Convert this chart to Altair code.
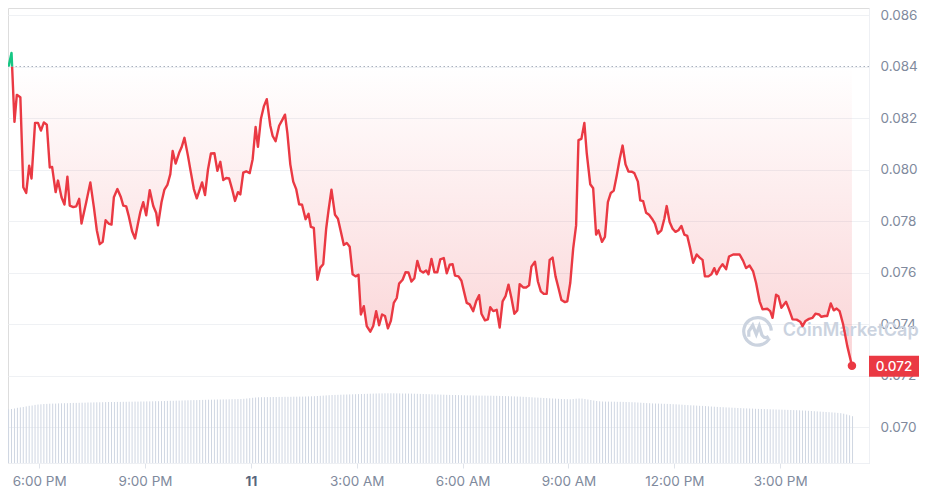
import altair as alt
import pandas as pd

# ---------------- data ----------------
DAY0 = pd.Timestamp("2024-07-10 17:00:00")   # minutes below are counted from here
BASELINE = 0.084                              # opening-price reference line
UP_COLOR = "#16c784"
DOWN_COLOR = "#ea3943"

price_minutes = [
    8, 13, 18, 22, 28, 33, 38, 43, 47, 53,
    58, 63, 68, 73, 78, 82, 88, 92, 98, 103,
    108, 112, 118, 123, 128, 132, 140, 147, 153, 158,
    163, 168, 173, 178, 183, 187, 193, 199, 203, 208,
    212, 218, 223, 228, 232, 237, 242, 248, 254, 259,
    262, 268, 273, 278, 283, 287, 292, 298, 302, 307,
    313, 318, 323, 328, 333, 337, 342, 347, 352, 358,
    363, 368, 373, 378, 383, 388, 393, 398, 402, 407,
    412, 418, 423, 428, 432, 437, 442, 447, 453, 457,
    462, 468, 473, 478, 482, 487, 492, 497, 502, 507,
    513, 518, 522, 527, 533, 538, 543, 548, 552, 557,
    563, 568, 573, 578, 583, 588, 593, 598, 603, 607,
    612, 617, 623, 628, 633, 638, 643, 648, 653, 658,
    663, 668, 672, 678, 683, 688, 693, 698, 703, 708,
    713, 718, 722, 727, 732, 737, 742, 748, 753, 758,
    763, 767, 773, 778, 783, 787, 792, 798, 803, 808,
    812, 818, 823, 827, 832, 838, 843, 848, 853, 858,
    863, 868, 873, 877, 883, 888, 893, 897, 903, 908,
    913, 918, 923, 928, 933, 938, 943, 948, 954, 958,
    963, 968, 973, 977, 982, 987, 991, 997, 1002, 1007,
    1011, 1017, 1022, 1027, 1032, 1037, 1042, 1047, 1052, 1057,
    1062, 1068, 1072, 1078, 1082, 1087, 1092, 1097, 1102, 1107,
    1112, 1118, 1123, 1127, 1132, 1137, 1142, 1147, 1152, 1157,
    1162, 1167, 1172, 1178, 1183, 1188, 1192, 1198, 1203, 1208,
    1212, 1217, 1222, 1228, 1233, 1240, 1251, 1257, 1262, 1268,
    1274, 1279, 1285, 1290, 1298, 1303, 1307, 1313, 1317, 1322,
    1330, 1335, 1341, 1348, 1354, 1358, 1363, 1369, 1375, 1380,
    1386, 1390, 1396, 1400, 1406, 1411, 1416, 1421, 1427, 1434,
    1442,
]

price_values = [
    0.08400, 0.08453, 0.08185, 0.08290, 0.08281, 0.07931, 0.07909, 0.08015, 0.07965, 0.08181,
    0.08181, 0.08151, 0.08183, 0.08174, 0.08008, 0.08010, 0.07912, 0.07957, 0.07892, 0.07864,
    0.07972, 0.07860, 0.07854, 0.07857, 0.07886, 0.07790, 0.07873, 0.07950, 0.07854, 0.07764,
    0.07710, 0.07719, 0.07803, 0.07790, 0.07786, 0.07892, 0.07924, 0.07892, 0.07860, 0.07857,
    0.07822, 0.07760, 0.07732, 0.07790, 0.07835, 0.07873, 0.07822, 0.07920, 0.07858, 0.07831,
    0.07783, 0.07873, 0.07922, 0.07940, 0.07982, 0.08072, 0.08023, 0.08065, 0.08085, 0.08123,
    0.08053, 0.07988, 0.07924, 0.07888, 0.07922, 0.07950, 0.07901, 0.07999, 0.08062, 0.08063,
    0.07995, 0.08030, 0.07959, 0.07967, 0.07965, 0.07924, 0.07878, 0.07912, 0.07903, 0.07988,
    0.07993, 0.07986, 0.08040, 0.08165, 0.08088, 0.08196, 0.08245, 0.08273, 0.08170, 0.08130,
    0.08110, 0.08170, 0.08191, 0.08213, 0.08142, 0.08020, 0.07953, 0.07924, 0.07865, 0.07863,
    0.07807, 0.07828, 0.07777, 0.07773, 0.07572, 0.07619, 0.07632, 0.07770, 0.07841, 0.07922,
    0.07824, 0.07809, 0.07758, 0.07707, 0.07715, 0.07700, 0.07593, 0.07585, 0.07591, 0.07437,
    0.07469, 0.07392, 0.07370, 0.07392, 0.07450, 0.07395, 0.07437, 0.07431, 0.07383, 0.07412,
    0.07482, 0.07501, 0.07557, 0.07572, 0.07601, 0.07600, 0.07565, 0.07578, 0.07645, 0.07607,
    0.07600, 0.07608, 0.07593, 0.07653, 0.07601, 0.07601, 0.07651, 0.07656, 0.07597, 0.07630,
    0.07632, 0.07588, 0.07585, 0.07568, 0.07520, 0.07482, 0.07476, 0.07450, 0.07488, 0.07512,
    0.07440, 0.07414, 0.07418, 0.07465, 0.07450, 0.07455, 0.07386, 0.07488, 0.07508, 0.07553,
    0.07501, 0.07440, 0.07453, 0.07555, 0.07542, 0.07542, 0.07550, 0.07623, 0.07642, 0.07565,
    0.07527, 0.07517, 0.07517, 0.07649, 0.07658, 0.07585, 0.07540, 0.07493, 0.07485, 0.07488,
    0.07559, 0.07693, 0.07783, 0.08114, 0.08119, 0.08181, 0.08065, 0.07943, 0.07927, 0.07747,
    0.07764, 0.07719, 0.07738, 0.07873, 0.07909, 0.07918, 0.07976, 0.08040, 0.08093, 0.08020,
    0.07992, 0.07991, 0.07986, 0.07953, 0.07880, 0.07877, 0.07832, 0.07824, 0.07809, 0.07790,
    0.07751, 0.07764, 0.07809, 0.07858, 0.07796, 0.07770, 0.07758, 0.07764, 0.07781, 0.07747,
    0.07742, 0.07693, 0.07638, 0.07670, 0.07658, 0.07649, 0.07585, 0.07585, 0.07593, 0.07617,
    0.07593, 0.07617, 0.07632, 0.07613, 0.07662, 0.07670, 0.07670, 0.07645, 0.07617, 0.07627,
    0.07604, 0.07559, 0.07488, 0.07457, 0.07459, 0.07450, 0.07424, 0.07514, 0.07508, 0.07463,
    0.07486, 0.07457, 0.07418, 0.07417, 0.07409, 0.07392, 0.07412, 0.07420, 0.07424, 0.07440,
    0.07437, 0.07428, 0.07431, 0.07431, 0.07480, 0.07453, 0.07460, 0.07450, 0.07399, 0.07315,
    0.07238,
]

# 5-minute volume bars (millions), first bar at minute 8
volume_start_min = 8
volume_step_min = 5
volume_musd = [
    5.37, 5.40, 5.45, 5.52, 5.56, 5.60, 5.66, 5.72, 5.75, 5.81, 5.85, 5.87,
    5.90, 5.91, 5.93, 5.94, 5.94, 5.96, 5.97, 5.98, 5.98, 6.00, 6.01, 6.01,
    6.02, 6.03, 6.03, 6.05, 6.05, 6.06, 6.07, 6.07, 6.08, 6.09, 6.10, 6.10,
    6.10, 6.11, 6.11, 6.12, 6.12, 6.13, 6.13, 6.14, 6.14, 6.15, 6.15, 6.16,
    6.16, 6.17, 6.18, 6.18, 6.19, 6.20, 6.21, 6.22, 6.22, 6.23, 6.24, 6.25,
    6.26, 6.27, 6.28, 6.29, 6.29, 6.30, 6.31, 6.32, 6.33, 6.33, 6.34, 6.35,
    6.35, 6.36, 6.36, 6.37, 6.38, 6.38, 6.39, 6.40, 6.42, 6.45, 6.48, 6.52,
    6.55, 6.57, 6.58, 6.58, 6.59, 6.59, 6.60, 6.60, 6.61, 6.61, 6.62, 6.62,
    6.62, 6.63, 6.63, 6.64, 6.64, 6.65, 6.66, 6.67, 6.68, 6.70, 6.72, 6.74,
    6.76, 6.78, 6.80, 6.81, 6.82, 6.83, 6.84, 6.85, 6.86, 6.87, 6.88, 6.89,
    6.90, 6.91, 6.92, 6.93, 6.94, 6.95, 6.96, 6.96, 6.97, 6.97, 6.97, 6.97,
    6.96, 6.96, 6.95, 6.95, 6.94, 6.94, 6.93, 6.92, 6.91, 6.90, 6.89, 6.88,
    6.87, 6.86, 6.85, 6.84, 6.83, 6.82, 6.81, 6.80, 6.80, 6.79, 6.78, 6.77,
    6.76, 6.76, 6.75, 6.75, 6.74, 6.74, 6.74, 6.73, 6.73, 6.72, 6.72, 6.71,
    6.70, 6.69, 6.68, 6.67, 6.66, 6.65, 6.64, 6.62, 6.61, 6.59, 6.57, 6.55,
    6.54, 6.52, 6.50, 6.49, 6.47, 6.45, 6.44, 6.42, 6.40, 6.39, 6.38, 6.37,
    6.40, 6.43, 6.45, 6.44, 6.40, 6.35, 6.30, 6.25, 6.20, 6.17, 6.15, 6.14,
    6.14, 6.13, 6.13, 6.12, 6.12, 6.11, 6.10, 6.09, 6.08, 6.07, 6.05, 6.03,
    6.01, 5.99, 5.98, 5.96, 5.95, 5.94, 5.93, 5.92, 5.91, 5.90, 5.88, 5.87,
    5.85, 5.83, 5.81, 5.79, 5.77, 5.76, 5.74, 5.72, 5.71, 5.69, 5.67, 5.65,
    5.63, 5.61, 5.59, 5.58, 5.56, 5.55, 5.53, 5.52, 5.50, 5.49, 5.47, 5.46,
    5.45, 5.44, 5.42, 5.41, 5.40, 5.39, 5.38, 5.37, 5.36, 5.35, 5.34, 5.33,
    5.32, 5.31, 5.30, 5.29, 5.28, 5.27, 5.25, 5.24, 5.22, 5.20, 5.18, 5.16,
    5.14, 5.12, 5.10, 5.08, 5.06, 5.04, 5.01, 4.98, 4.93, 4.85, 4.77, 4.68,
]

y_tick_values = [0.070, 0.072, 0.074, 0.076, 0.078, 0.080, 0.082, 0.084, 0.086]
x_tick_day_hour = [(10, 18), (10, 21), (11, 0), (11, 3), (11, 6), (11, 9), (11, 12), (11, 15)]
watermark_text = "CoinMarketCap"

# ---------------- tables ----------------
rows = []
for i, (m, p) in enumerate(zip(price_minutes, price_values)):
    if i > 0:
        m0, p0 = price_minutes[i - 1], price_values[i - 1]
        if (p0 - BASELINE) * (p - BASELINE) < 0:
            mc = m0 + (BASELINE - p0) / (p - p0) * (m - m0)
            rows.append((mc, BASELINE, True))
    rows.append((m, p, False))
df = pd.DataFrame(rows, columns=["m", "price", "cross"])
df["t"] = DAY0 + pd.to_timedelta(df["m"], unit="min")
df["lower"] = df["price"].clip(upper=BASELINE)
df["upper"] = df["price"].clip(lower=BASELINE)
first_cross = int(df.index[df["cross"]][0])
green_df = df.loc[:first_cross, ["t", "price", "upper"]]
red_df = df.loc[first_cross:, ["t", "price"]]
area_df = df[["t", "lower"]]
last_df = df.iloc[[-1]][["t", "price"]]

vol_df = pd.DataFrame({
    "t": [DAY0 + pd.Timedelta(minutes=volume_start_min + volume_step_min * i) for i in range(len(volume_musd))],
    "vol": volume_musd,
})

# ---------------- scales / axes ----------------
x_scale = alt.Scale(domain=[alt.DateTime(year=2024, month=7, date=10, hours=17, minutes=7),
                            alt.DateTime(year=2024, month=7, date=11, hours=17, minutes=31)])
Y_DOMAIN = [0.068602, 0.086272]

def ysc():
    return alt.Scale(domain=Y_DOMAIN, nice=False, zero=False)

x_axis = alt.Axis(
    values=[alt.DateTime(year=2024, month=7, date=d, hours=h) for d, h in x_tick_day_hour],
    labelExpr="hours(datum.value) == 0 ? timeFormat(datum.value, '%-d') : timeFormat(datum.value, '%-I:%M %p')",
    title=None, grid=False, domain=True, domainColor="#eef0f4", ticks=True, tickColor="#dfe3ea",
    tickSize=5, labelPadding=6, labelFont="Inter", labelFontSize=13.5,
    labelColor={"condition": {"test": "hours(datum.value) == 0", "value": "#58667e"}, "value": "#808a9d"},
    labelFontWeight={"condition": {"test": "hours(datum.value) == 0", "value": 700}, "value": 400},
    labelFlush=False, labelOverlap=False,
)
y_axis = alt.Axis(
    orient="right", values=y_tick_values, format=".3f", title=None, grid=True, gridColor="#eff1f4",
    ticks=False, domain=True, domainColor="#eef0f4", labelColor="#808a9d", labelFont="Inter",
    labelFontSize=13.5, labelPadding=11,
)
# every layer carries the same x axis definition so the shared axis is not disabled
X = alt.X("t:T", scale=x_scale, axis=x_axis)

# ---------------- layers ----------------
vol = alt.Chart(vol_df).mark_rule(color="#cfd6e2", strokeWidth=1).encode(
    x=X, y=alt.Y("vol:Q", scale=alt.Scale(domain=[0, 45.5]), axis=None), y2=alt.datum(0)
)

red_grad = alt.Gradient(
    gradient="linear",
    stops=[alt.GradientStop(color="rgba(234,57,67,0)", offset=0),
           alt.GradientStop(color="rgba(234,57,67,0.22)", offset=1)],
    x1=1, x2=1, y1=0, y2=1,
)
green_grad = alt.Gradient(
    gradient="linear",
    stops=[alt.GradientStop(color="rgba(22,199,132,0.35)", offset=0),
           alt.GradientStop(color="rgba(22,199,132,0.05)", offset=1)],
    x1=1, x2=1, y1=0, y2=1,
)

base_rule = alt.Chart(pd.DataFrame({"b": [BASELINE]})).mark_rule(
    color="#a9b1be", strokeDash=[1.5, 2.5], strokeWidth=1
).encode(y=alt.Y("b:Q", scale=ysc(), axis=y_axis))

area_red = alt.Chart(area_df).mark_area(fill=red_grad).encode(
    x=X, y=alt.Y("lower:Q", scale=ysc(), axis=None), y2=alt.datum(BASELINE)
)
area_green = alt.Chart(green_df).mark_area(fill=green_grad).encode(
    x=X, y=alt.Y("upper:Q", scale=ysc(), axis=None), y2=alt.datum(BASELINE)
)

logo_path = ("M0.80,0.48 A0.92,0.92 0 1,1 0.92,-0.02 "
             "M-0.58,0.38 L-0.58,0.02 L-0.32,-0.38 L-0.08,0.22 L0.12,-0.32 L0.30,0.28 Q0.48,0.55 0.74,0.36")
logo = alt.Chart(pd.DataFrame({"k": [0]})).mark_point(
    shape=logo_path, size=900, filled=False, color="#cbd3df", strokeWidth=3.2, opacity=1
).encode(x=alt.value(749.5), y=alt.value(323))
wm = alt.Chart(pd.DataFrame({"label": [watermark_text]})).mark_text(
    align="left", baseline="middle", fontSize=18, fontWeight=600, font="Inter", color="#cbd3df"
).encode(x=alt.value(774.7), y=alt.value(323), text="label:N")

line_red = alt.Chart(red_df).mark_line(color=DOWN_COLOR, strokeWidth=2.4, strokeJoin="round").encode(
    x=X, y=alt.Y("price:Q", scale=ysc(), axis=None)
)
line_green = alt.Chart(green_df).mark_line(color=UP_COLOR, strokeWidth=2.4, strokeJoin="round").encode(
    x=X, y=alt.Y("price:Q", scale=ysc(), axis=None)
)
dot = alt.Chart(last_df).mark_circle(size=72, color=DOWN_COLOR, opacity=1).encode(
    x=X, y=alt.Y("price:Q", scale=ysc(), axis=None)
)
tag = alt.Chart(last_df).mark_rect(color=DOWN_COLOR, yOffset=-10, y2Offset=11).encode(
    x=alt.value(861), x2=alt.value(911),
    y=alt.Y("price:Q", scale=ysc(), axis=None), y2=alt.Y2("price:Q"),
)
tag_text = alt.Chart(last_df).mark_text(
    color="white", fontSize=13.5, fontWeight=500, font="Inter", align="center", baseline="middle", dy=1
).encode(x=alt.value(886), y=alt.Y("price:Q", scale=ysc(), axis=None),
         text=alt.Text("price:Q", format=".3f"))

chart = (
    alt.layer(vol, base_rule, area_red, area_green, logo, wm, line_red, line_green, dot, tag, tag_text)
    .resolve_scale(y="independent")
    .properties(
        width=861, height=455,
        autosize=alt.AutoSizeParams(type="none"),
        padding={"left": 0, "top": 0, "right": 51, "bottom": 32},
    )
    .configure_view(stroke=None, strokeWidth=0)
    .configure(font="Inter")
)

chart.save("out.html", embed_options={"renderer": "svg", "actions": False})
